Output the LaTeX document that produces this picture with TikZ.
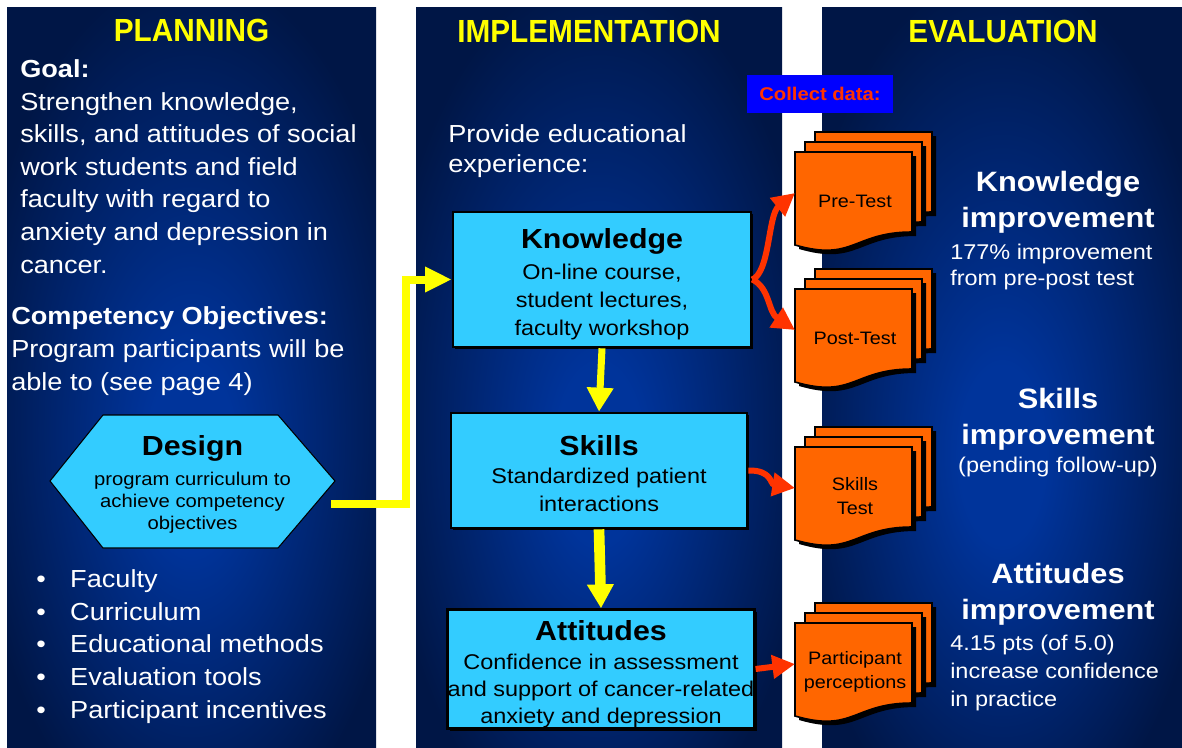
\documentclass[tikz,border=0pt]{standalone}
\usepackage{fontspec}
\setmainfont{Liberation Sans}[FakeStretch=1.1]
\newfontfamily\titlefont{Liberation Sans}[FakeStretch=0.93]
\usetikzlibrary{arrows.meta,shadows}
\definecolor{navyD}{RGB}{0,22,70}
\definecolor{navyL}{RGB}{0,52,155}
\definecolor{boxcyan}{RGB}{51,204,255}
\definecolor{docorange}{RGB}{255,102,0}
\definecolor{redarr}{RGB}{255,51,0}
\definecolor{yel}{RGB}{255,255,0}
\definecolor{cblue}{RGB}{0,0,255}
\pgfdeclareradialshading{panelglow}{\pgfpoint{0bp}{-6bp}}{color(0bp)=(navyL); color(6bp)=(navyL); color(30bp)=(navyD); color(50bp)=(navyD)}
\tikzset{
  pics/docstack/.style={code={
    \foreach \o in {20,10,0}{
      \fill[black,shift={(\o+4,-\o+4)}] (0,0) -- (117,0) -- (117,80) .. controls (58.5,80) and (58.5,110) .. (0,93) -- cycle;
      \filldraw[fill=docorange,draw=black,line width=1.2pt,shift={(\o,-\o)}] (0,0) -- (117,0) -- (117,80) .. controls (58.5,80) and (58.5,110) .. (0,93) -- cycle;
    }
    \node[font=\fontsize{13.5}{18}\selectfont,align=center,inner sep=0] (-lbl) at (60,49) {#1};
    \coordinate (-in) at (0,41);
  }}
}
\begin{document}
\begin{tikzpicture}[x=0.75pt,y=-0.75pt,
  panel/.style={shading=panelglow},
  ptitle/.style={text=yel,font=\titlefont\bfseries\fontsize{24}{28}\selectfont,anchor=base,inner sep=0},
  wtext/.style={text=white,font=\fontsize{18.5}{24.4}\selectfont,align=left,anchor=base west,inner sep=0},
  rtitle/.style={text=white,font=\bfseries\fontsize{21}{27}\selectfont,align=center,anchor=base,inner sep=0},
  rsub/.style={text=white,font=\fontsize{16}{19.5}\selectfont,align=left,anchor=base west,inner sep=0},
  stagebox/.style={draw=black,line width=2pt,fill=boxcyan,align=center,inner sep=0,font=\fontsize{16}{21}\selectfont,drop shadow={shadow xshift=1.8pt,shadow yshift=-1.8pt,fill=black,opacity=1}},
  yarrow/.style={draw=yel,line width=#1,-{Triangle[length=18pt,width=19pt]}},
  rarrow/.style={draw=redarr,line width=4.5pt,-{Triangle[length=17pt,width=17pt]}}
]
\useasboundingbox (0,0) rectangle (1182,747);
% background and panels
\fill[white] (0,0) rectangle (1182,747);
\shade[panel] (7,7) rectangle (376,747);
\shade[panel] (416,7) rectangle (782,747);
\shade[panel] (822,7) rectangle (1182,747);

% titles
\node[ptitle] (tplan) at (191.5,41) {PLANNING};
\node[ptitle] (timpl) at (589,42) {IMPLEMENTATION};
\node[ptitle] (teval) at (1003,42) {EVALUATION};

% planning text (base anchor = last line)
\node[wtext] (goal) at (20,273) {\textbf{Goal:}\\Strengthen knowledge,\\skills, and attitudes of social\\work students and field\\faculty with regard to\\anxiety and depression in\\cancer.};
\node[wtext] (comp) at (11,390) {\textbf{Competency Objectives:}\\Program participants will be\\able to (see page 4)};

% design hexagon
\filldraw[fill=boxcyan,draw=black,line width=0.8pt] (50,481) -- (103,415) -- (278,415) -- (335,481) -- (278,548) -- (103,548) -- cycle;
\node[align=center,inner sep=0,font=\fontsize{13.8}{16.5}\selectfont] (design) at (192.5,482) {{\bfseries\fontsize{20.7}{25}\selectfont\rule{0pt}{18.9pt}Design}\\[5.75pt]program curriculum to\\achieve competency\\objectives};

\node[wtext] (bul) at (36,718) {\makebox[25.5pt][l]{•}Faculty\\\makebox[25.5pt][l]{•}Curriculum\\\makebox[25.5pt][l]{•}Educational methods\\\makebox[25.5pt][l]{•}Evaluation tools\\\makebox[25.5pt][l]{•}Participant incentives};

% implementation
\node[wtext,font=\fontsize{18.5}{22.5}\selectfont] (prov) at (448,172) {Provide educational\\experience:};

\node[stagebox,minimum width=223.5pt,minimum height=101.25pt] (know) at (602,279.5) {{\bfseries\fontsize{20.7}{25}\selectfont\rule{0pt}{21.9pt}Knowledge}\\[2.25pt]On-line course,\\student lectures,\\faculty workshop};
\node[stagebox,minimum width=222pt,minimum height=86.25pt] (skills) at (599,470.5) {{\bfseries\fontsize{20.7}{25}\selectfont\rule{0pt}{19.6pt}Skills}\\Standardized patient\\interactions};
\node[stagebox,minimum width=223.5pt,minimum height=88.5pt,font=\fontsize{16}{20.25}\selectfont] (att) at (601,669) {{\bfseries\fontsize{20.7}{25}\selectfont\rule{0pt}{23.4pt}Attitudes}\\[1.5pt]Confidence in assessment\\and support of cancer-related\\anxiety and depression};

% yellow connectors
\coordinate (ys) at (331,504);
\draw[yarrow=6pt,-{Triangle[length=20pt,width=18pt]}] (ys) -- (406,504) |- (know.west);
\draw[yarrow=5.25pt] (know.south) -- (skills.north);
\draw[yarrow=8pt] (skills.south) -- (att.north);

% collect data
\node[fill=cblue,minimum width=109.5pt,minimum height=28.5pt,inner sep=0,text=redarr,font=\bfseries\fontsize{13.8}{16}\selectfont] (collect) at (820,94) {Collect data:};

% document stacks
\pic (pre) at (795,152) {docstack={Pre-Test}};
\pic (post) at (795,289) {docstack={Post-Test}};
\pic (st) at (795,447) {docstack={Skills\\Test}};
\pic (pp) at (795,623) {docstack={Participant\\perceptions}};

% red arrows
\draw[rarrow] (know.east) .. controls (770,272) and (768,215) .. (pre-in);
\draw[rarrow] (know.east) .. controls (770,288) and (768,312) .. (post-in);
\draw[rarrow] (skills.east) .. controls (772,470) and (770,484) .. (st-in);
\draw[rarrow] (att.east) -- (pp-in);

% evaluation text (base anchor = last line)
\node[rtitle] (rk) at (1058,227) {Knowledge\\improvement};
\node[rsub] (rk2) at (950,285.5) {177\% improvement\\from pre-post test};
\node[rtitle] (rs) at (1058,444) {Skills\\improvement};
\node[text=white,font=\fontsize{16}{19.5}\selectfont,anchor=base,inner sep=0] (rs2) at (1058,472) {(pending follow-up)};
\node[rtitle] (ra) at (1058,619) {Attitudes\\improvement};
\node[rsub,font=\fontsize{16}{21}\selectfont] (ra2) at (950,706) {4.15 pts (of 5.0)\\increase confidence\\in practice};
\end{tikzpicture}
\end{document}
